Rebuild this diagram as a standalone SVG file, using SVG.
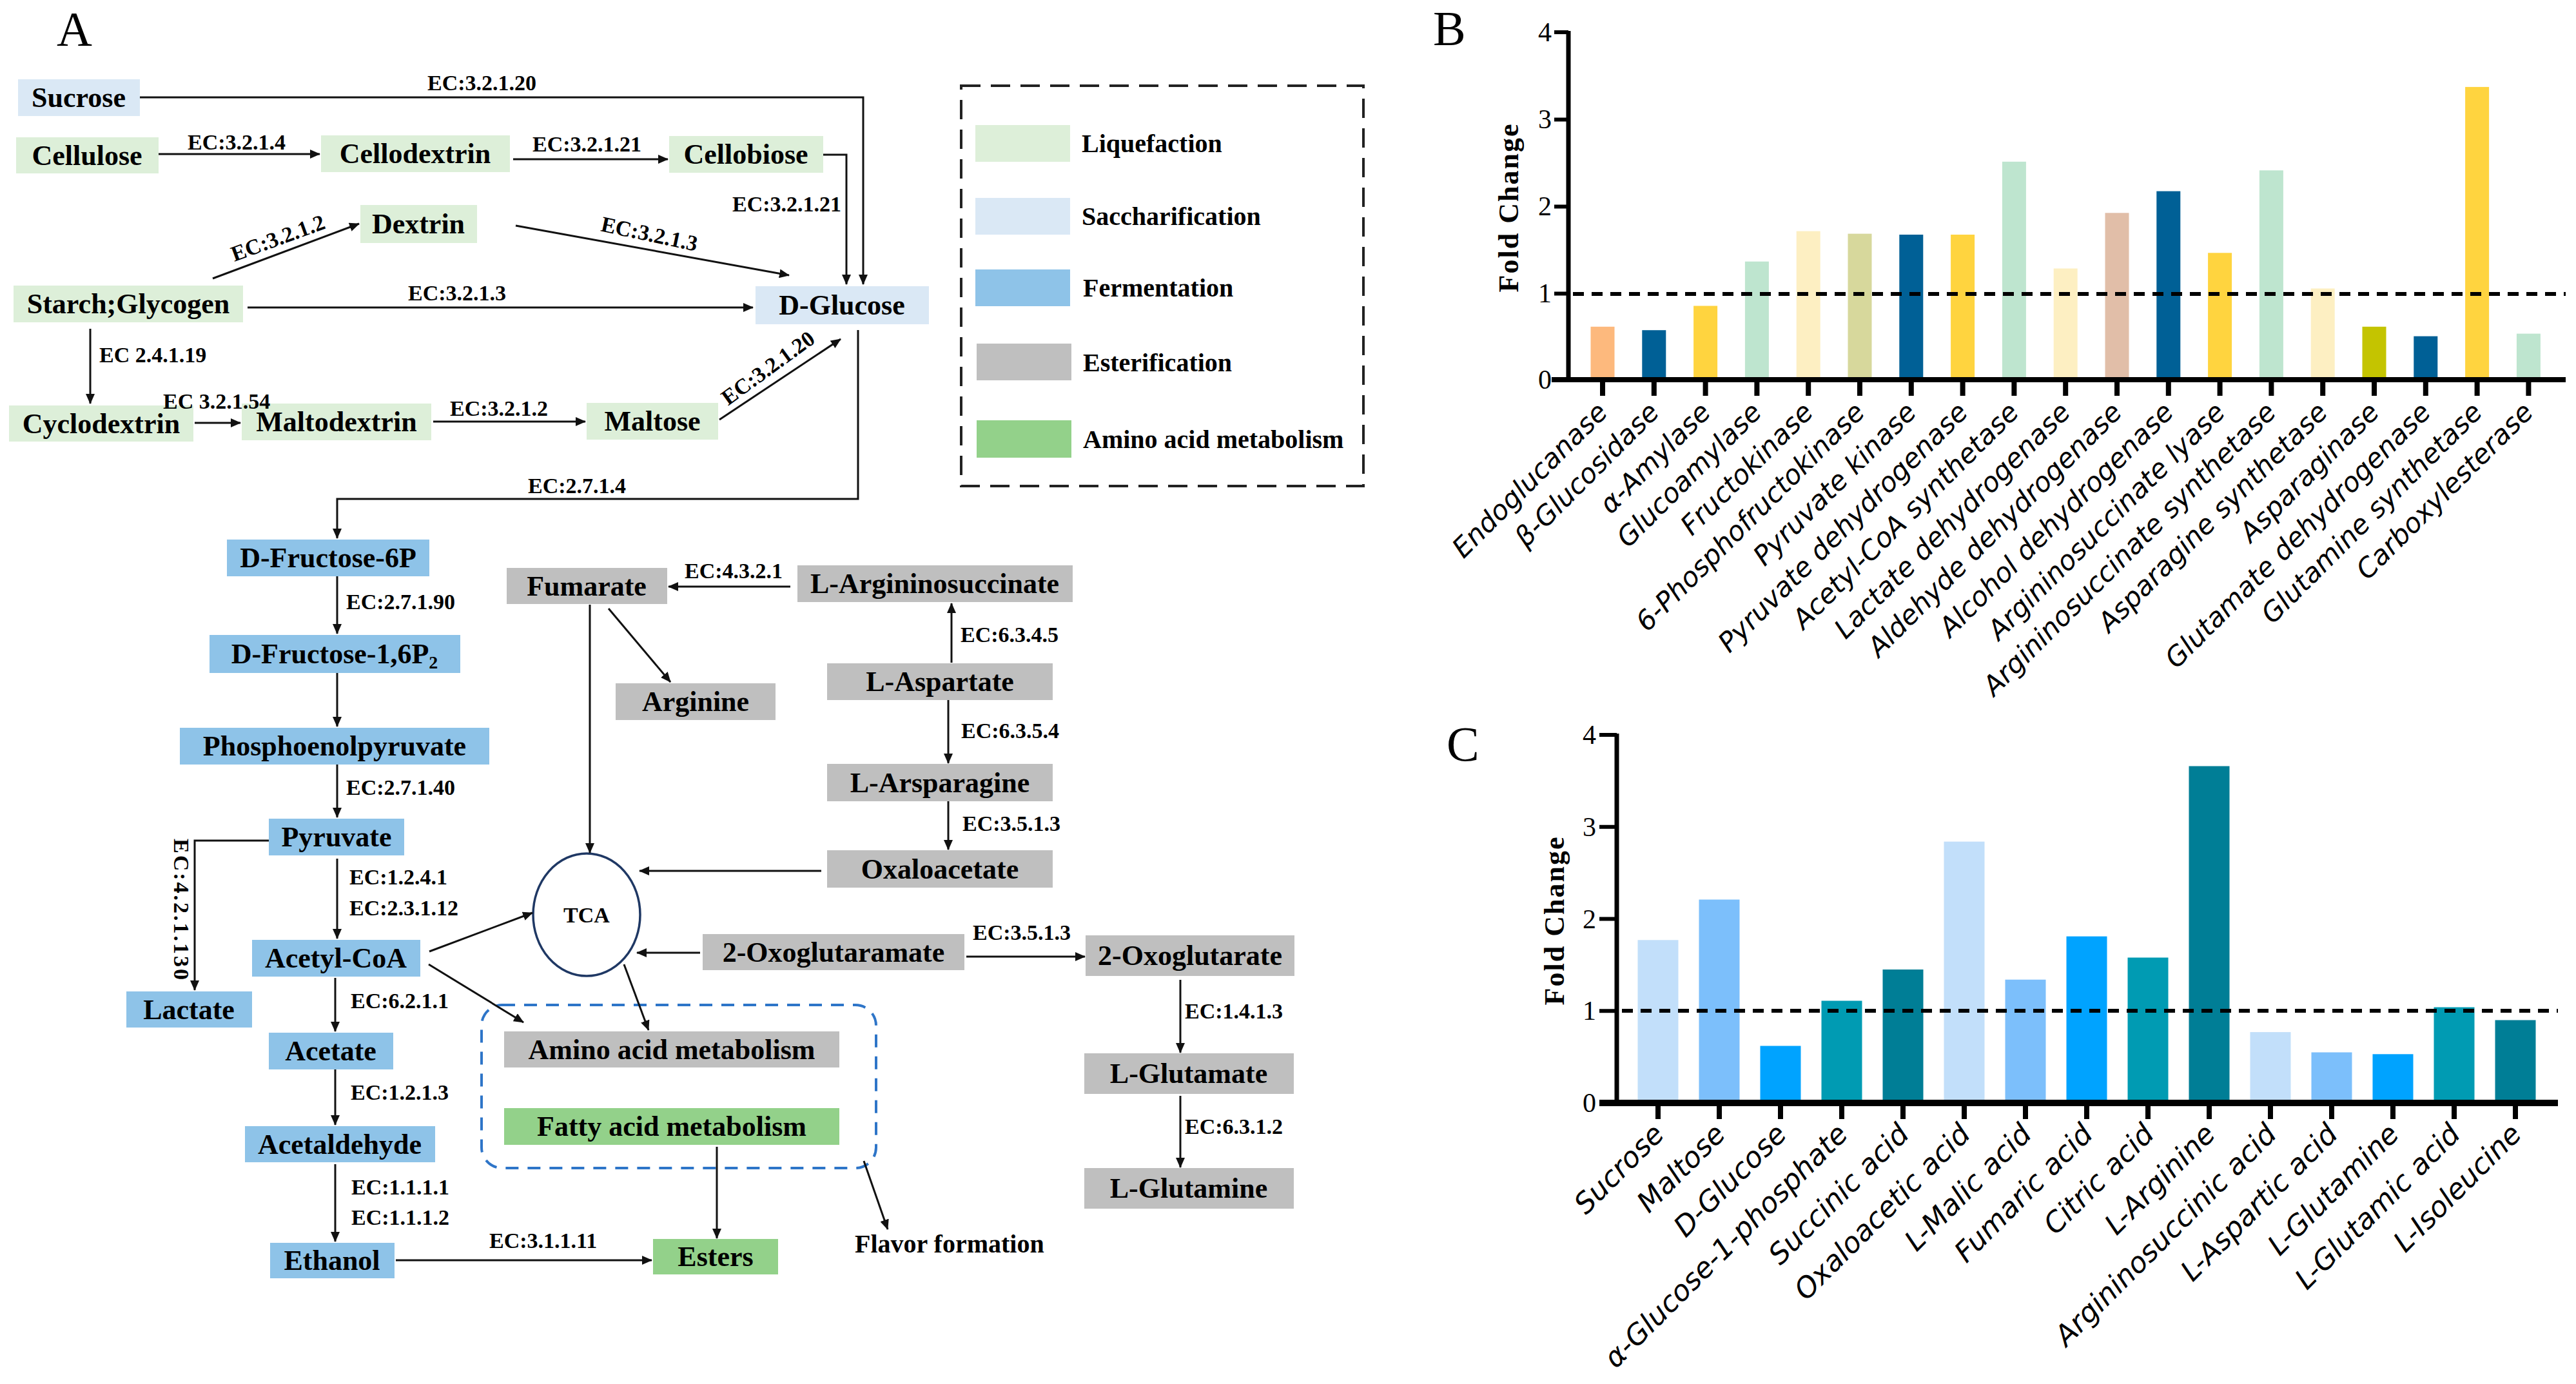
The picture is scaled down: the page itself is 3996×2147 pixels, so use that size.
<svg xmlns="http://www.w3.org/2000/svg" width="3996" height="2147" viewBox="0 0 3996 2147">
<defs>
<marker id="ah" viewBox="0 0 16 14" refX="15" refY="7" markerWidth="16" markerHeight="14" markerUnits="userSpaceOnUse" orient="auto">
<path d="M0,0 L16,7 L0,14 Z" fill="#111"/>
</marker>
<style>
.liq{fill:#DDEFD9}
.sac{fill:#DAE8F5}
.fer{fill:#8EC3E8}
.est{fill:#BFBFBF}
.ami{fill:#93D18A}
.nt{font-family:"Liberation Serif","Times New Roman",serif;font-weight:bold;font-size:44px;fill:#000;text-anchor:middle}
.lg{font-family:"Liberation Serif","Times New Roman",serif;font-weight:bold;font-size:40px;fill:#000}
.ec{font-family:"Liberation Serif","Times New Roman",serif;font-weight:bold;font-size:34px;fill:#000}
.pl{font-family:"Liberation Serif","Times New Roman",serif;font-size:76px;fill:#000}
.tk{font-family:"Liberation Serif","Times New Roman",serif;font-size:42px;fill:#000;text-anchor:end}
.yl{font-family:"Liberation Serif","Times New Roman",serif;font-weight:bold;font-size:44px;fill:#000;text-anchor:middle;letter-spacing:2px}
.xb{font-family:"DejaVu Sans","Verdana",sans-serif;font-style:italic;font-size:42px;fill:#000;text-anchor:end}
.xc{font-family:"DejaVu Sans","Verdana",sans-serif;font-style:italic;font-size:44px;fill:#000;text-anchor:end}
.cn path{fill:none;stroke:#111;stroke-width:3;marker-end:url(#ah)}
.ax{stroke:#000;fill:none}
</style>
</defs>
<rect width="3996" height="2147" fill="#fff"/>

<!-- Panel letters -->
<text class="pl" x="88" y="71">A</text>
<text class="pl" x="2223" y="70">B</text>
<text class="pl" x="2244" y="1180">C</text>

<!-- Legend -->
<g id="legend">
<rect x="1491" y="133" width="624" height="621" fill="none" stroke="#222" stroke-width="4" stroke-dasharray="30 16"/>
<rect class="liq" x="1513" y="194" width="147" height="57"/>
<text class="lg" x="1678" y="236">Liquefaction</text>
<rect class="sac" x="1513" y="307" width="147" height="57"/>
<text class="lg" x="1678" y="349">Saccharification</text>
<rect class="fer" x="1513" y="418" width="147" height="57"/>
<text class="lg" x="1680" y="460">Fermentation</text>
<rect class="est" x="1515" y="533" width="147" height="57"/>
<text class="lg" x="1680" y="576">Esterification</text>
<rect class="ami" x="1515" y="652" width="147" height="58"/>
<text class="lg" x="1680" y="695">Amino acid metabolism</text>
</g>

<!-- Nodes -->
<g id="n-sucrose"><rect class="sac" x="28" y="123" width="189" height="57"/><text class="nt" x="122" y="166">Sucrose</text></g>
<g id="n-cellulose"><rect class="liq" x="25" y="213" width="221" height="56"/><text class="nt" x="135" y="256">Cellulose</text></g>
<g id="n-cellodextrin"><rect class="liq" x="498" y="210" width="293" height="57"/><text class="nt" x="644" y="253">Cellodextrin</text></g>
<g id="n-cellobiose"><rect class="liq" x="1038" y="211" width="239" height="57"/><text class="nt" x="1157" y="254">Cellobiose</text></g>
<g id="n-dextrin"><rect class="liq" x="559" y="318" width="181" height="59"/><text class="nt" x="649" y="362">Dextrin</text></g>
<g id="n-starch"><rect class="liq" x="21" y="443" width="356" height="57"/><text class="nt" x="199" y="486">Starch;Glycogen</text></g>
<g id="n-dglucose"><rect class="sac" x="1172" y="444" width="269" height="59"/><text class="nt" x="1306" y="488">D-Glucose</text></g>
<g id="n-cyclodextrin"><rect class="liq" x="14" y="629" width="286" height="56"/><text class="nt" x="157" y="672">Cyclodextrin</text></g>
<g id="n-maltodextrin"><rect class="liq" x="375" y="626" width="294" height="57"/><text class="nt" x="522" y="669">Maltodextrin</text></g>
<g id="n-maltose"><rect class="liq" x="910" y="625" width="204" height="57"/><text class="nt" x="1012" y="668">Maltose</text></g>
<g id="n-f6p"><rect class="fer" x="352" y="837" width="314" height="57"/><text class="nt" x="509" y="880">D-Fructose-6P</text></g>
<g id="n-f16p2"><rect class="fer" x="325" y="985" width="389" height="59"/><text class="nt" x="519" y="1029">D-Fructose-1,6P<tspan font-size="28" dy="8">2</tspan></text></g>
<g id="n-pep"><rect class="fer" x="279" y="1129" width="480" height="57"/><text class="nt" x="519" y="1172">Phosphoenolpyruvate</text></g>
<g id="n-pyruvate"><rect class="fer" x="417" y="1270" width="210" height="57"/><text class="nt" x="522" y="1313">Pyruvate</text></g>
<g id="n-acetylcoa"><rect class="fer" x="391" y="1458" width="261" height="57"/><text class="nt" x="521" y="1501">Acetyl-CoA</text></g>
<g id="n-lactate"><rect class="fer" x="196" y="1538" width="195" height="56"/><text class="nt" x="293" y="1581">Lactate</text></g>
<g id="n-acetate"><rect class="fer" x="417" y="1602" width="193" height="57"/><text class="nt" x="513" y="1645">Acetate</text></g>
<g id="n-acetaldehyde"><rect class="fer" x="380" y="1747" width="295" height="56"/><text class="nt" x="527" y="1790">Acetaldehyde</text></g>
<g id="n-ethanol"><rect class="fer" x="419" y="1928" width="193" height="55"/><text class="nt" x="515" y="1970">Ethanol</text></g>
<g id="n-fumarate"><rect class="est" x="786" y="881" width="249" height="56"/><text class="nt" x="910" y="924">Fumarate</text></g>
<g id="n-arginine"><rect class="est" x="955" y="1060" width="248" height="57"/><text class="nt" x="1079" y="1103">Arginine</text></g>
<g id="n-argsucc"><rect class="est" x="1237" y="877" width="427" height="57"/><text class="nt" x="1450" y="920">L-Argininosuccinate</text></g>
<g id="n-aspartate"><rect class="est" x="1283" y="1029" width="350" height="57"/><text class="nt" x="1458" y="1072">L-Aspartate</text></g>
<g id="n-asparagine"><rect class="est" x="1283" y="1185" width="350" height="58"/><text class="nt" x="1458" y="1229">L-Arsparagine</text></g>
<g id="n-oxaloacetate"><rect class="est" x="1283" y="1319" width="350" height="58"/><text class="nt" x="1458" y="1363">Oxaloacetate</text></g>
<g id="n-tca"><ellipse cx="910" cy="1419" rx="83" ry="95" fill="#fff" stroke="#1F3864" stroke-width="3.5"/><text class="ec" x="910" y="1431" text-anchor="middle">TCA</text></g>
<g id="n-oxoglutaramate"><rect class="est" x="1090" y="1449" width="406" height="56"/><text class="nt" x="1293" y="1492">2-Oxoglutaramate</text></g>
<g id="n-oxoglutarate"><rect class="est" x="1684" y="1451" width="324" height="63"/><text class="nt" x="1846" y="1497">2-Oxoglutarate</text></g>
<g id="n-glutamate"><rect class="est" x="1682" y="1634" width="325" height="63"/><text class="nt" x="1844" y="1680">L-Glutamate</text></g>
<g id="n-glutamine"><rect class="est" x="1682" y="1812" width="325" height="63"/><text class="nt" x="1844" y="1858">L-Glutamine</text></g>
<g id="n-flavorgroup"><rect x="747" y="1559" width="612" height="253" rx="32" ry="32" fill="none" stroke="#2E75C8" stroke-width="4" stroke-dasharray="20 14"/></g>
<g id="n-aminometab"><rect class="est" x="782" y="1600" width="520" height="56"/><text class="nt" x="1042" y="1643">Amino acid metabolism</text></g>
<g id="n-fattymetab"><rect class="ami" x="782" y="1719" width="520" height="57"/><text class="nt" x="1042" y="1762">Fatty acid metabolism</text></g>
<g id="n-esters"><rect class="ami" x="1013" y="1922" width="194" height="55"/><text class="nt" x="1110" y="1964">Esters</text></g>
<g id="n-flavor"><text class="lg" x="1326" y="1943">Flavor formation</text></g>

<!-- Connectors -->
<g id="connectors" class="cn">
<path d="M217,151 H1339 V441"/>
<path d="M246,239 H496"/>
<path d="M796,247 H1036"/>
<path d="M1277,240 H1313 V441"/>
<path d="M330,432 L557,347"/>
<path d="M800,350 L1224,427"/>
<path d="M384,477 H1168"/>
<path d="M140,510 V626"/>
<path d="M302,656 H373"/>
<path d="M672,654 H908"/>
<path d="M1116,651 L1304,526"/>
<path d="M1331,512 V774 H523 V835"/>
<path d="M523,894 V983"/>
<path d="M523,1044 V1127"/>
<path d="M523,1186 V1268"/>
<path d="M417,1304 H302 V1536"/>
<path d="M523,1332 V1456"/>
<path d="M520,1517 V1600"/>
<path d="M520,1659 V1745"/>
<path d="M520,1806 V1926"/>
<path d="M614,1955 H1011"/>
<path d="M666,1476 L826,1416"/>
<path d="M665,1496 L812,1586"/>
<path d="M915,938 V1323"/>
<path d="M944,944 L1040,1058"/>
<path d="M1226,910 H1037"/>
<path d="M1476,1028 V936"/>
<path d="M1471,1086 V1184"/>
<path d="M1471,1243 V1318"/>
<path d="M1274,1351 H992"/>
<path d="M1086,1478 H988"/>
<path d="M1499,1484 H1683"/>
<path d="M1831,1520 V1633"/>
<path d="M1831,1700 V1811"/>
<path d="M968,1496 L1006,1598"/>
<path d="M1112,1779 V1921"/>
<path d="M1340,1801 L1377,1907"/>
</g>

<!-- EC labels -->
<g id="ec-labels">
<text class="ec" x="663" y="140">EC:3.2.1.20</text>
<text class="ec" x="291" y="232">EC:3.2.1.4</text>
<text class="ec" x="826" y="235">EC:3.2.1.21</text>
<text class="ec" x="1136" y="328">EC:3.2.1.21</text>
<text class="ec" text-anchor="middle" transform="translate(435,380) rotate(-20)">EC:3.2.1.2</text>
<text class="ec" text-anchor="middle" transform="translate(1005,374) rotate(12)">EC:3.2.1.3</text>
<text class="ec" x="633" y="466">EC:3.2.1.3</text>
<text class="ec" x="154" y="562">EC 2.4.1.19</text>
<text class="ec" x="253" y="634">EC 3.2.1.54</text>
<text class="ec" x="698" y="645">EC:3.2.1.2</text>
<text class="ec" text-anchor="middle" transform="translate(1198,580) rotate(-36)">EC:3.2.1.20</text>
<text class="ec" x="819" y="765">EC:2.7.1.4</text>
<text class="ec" x="537" y="945">EC:2.7.1.90</text>
<text class="ec" x="537" y="1233">EC:2.7.1.40</text>
<text class="ec" x="542" y="1372">EC:1.2.4.1</text>
<text class="ec" x="542" y="1420">EC:2.3.1.12</text>
<text class="ec" text-anchor="middle" letter-spacing="3" transform="translate(270,1412) rotate(90)">EC:4.2.1.130</text>
<text class="ec" x="544" y="1564">EC:6.2.1.1</text>
<text class="ec" x="544" y="1706">EC:1.2.1.3</text>
<text class="ec" x="545" y="1853">EC:1.1.1.1</text>
<text class="ec" x="545" y="1900">EC:1.1.1.2</text>
<text class="ec" x="759" y="1936">EC:3.1.1.11</text>
<text class="ec" x="1062" y="897">EC:4.3.2.1</text>
<text class="ec" x="1490" y="996">EC:6.3.4.5</text>
<text class="ec" x="1491" y="1145">EC:6.3.5.4</text>
<text class="ec" x="1493" y="1289">EC:3.5.1.3</text>
<text class="ec" x="1509" y="1458">EC:3.5.1.3</text>
<text class="ec" x="1838" y="1580">EC:1.4.1.3</text>
<text class="ec" x="1838" y="1759">EC:6.3.1.2</text>
</g>

<!-- Panel B -->
<g id="chart-b">
<g id="bars-b">
<rect x="2467.5" y="506.8" width="37" height="82.2" fill="#FDB97D"/>
<rect x="2547.3" y="512.2" width="37" height="76.8" fill="#006096"/>
<rect x="2627.1" y="474.5" width="37" height="114.5" fill="#FFD43F"/>
<rect x="2706.9" y="405.7" width="37" height="183.3" fill="#BEE5CF"/>
<rect x="2786.7" y="358.6" width="37" height="230.4" fill="#FDEFC2"/>
<rect x="2866.5" y="362.6" width="37" height="226.4" fill="#D7D89C"/>
<rect x="2946.3" y="364" width="37" height="225" fill="#006096"/>
<rect x="3026.1" y="364" width="37" height="225" fill="#FFD43F"/>
<rect x="3105.9" y="250.8" width="37" height="338.2" fill="#BEE5CF"/>
<rect x="3185.7" y="416.5" width="37" height="172.5" fill="#FDEFC2"/>
<rect x="3265.5" y="330.3" width="37" height="258.7" fill="#E1BEA8"/>
<rect x="3345.3" y="296.6" width="37" height="292.4" fill="#006096"/>
<rect x="3425.1" y="392.3" width="37" height="196.7" fill="#FFD43F"/>
<rect x="3504.9" y="264.3" width="37" height="324.7" fill="#BEE5CF"/>
<rect x="3584.7" y="447.5" width="37" height="141.5" fill="#FDEFC2"/>
<rect x="3664.5" y="506.8" width="37" height="82.2" fill="#C4C400"/>
<rect x="3744.3" y="521.6" width="37" height="67.4" fill="#006096"/>
<rect x="3824.1" y="134.9" width="37" height="454.1" fill="#FFD43F"/>
<rect x="3903.9" y="517.6" width="37" height="71.4" fill="#BEE5CF"/>
</g>
<path class="ax" stroke-width="7" d="M2433,48 V589"/>
<path class="ax" stroke-width="6" d="M2411,50 H2433 M2411,185.5 H2433 M2411,320.5 H2433 M2411,455.5 H2433"/>
<path class="ax" stroke-width="6" stroke-dasharray="17 12" d="M2440,456 H3980"/>
<path class="ax" stroke-width="8" d="M2407,589 H3980"/>
<path class="ax" stroke-width="8" d="M2486,589 V614 M2565.8,589 V614 M2645.6,589 V614 M2725.4,589 V614 M2805.2,589 V614 M2885,589 V614 M2964.8,589 V614 M3044.6,589 V614 M3124.4,589 V614 M3204.2,589 V614 M3284,589 V614 M3363.8,589 V614 M3443.6,589 V614 M3523.4,589 V614 M3603.2,589 V614 M3683,589 V614 M3762.8,589 V614 M3842.6,589 V614 M3922.4,589 V614"/>
<text class="tk" x="2407" y="64">4</text>
<text class="tk" x="2407" y="199">3</text>
<text class="tk" x="2407" y="334">2</text>
<text class="tk" x="2407" y="469">1</text>
<text class="tk" x="2407" y="603">0</text>
<text class="yl" transform="translate(2340,322) rotate(-90)" y="15">Fold Change</text>
<text class="xb" transform="translate(2496,642) rotate(-45)">Endoglucanase</text>
<text class="xb" transform="translate(2576,642) rotate(-45)">β-Glucosidase</text>
<text class="xb" transform="translate(2656,642) rotate(-45)">α-Amylase</text>
<text class="xb" transform="translate(2735,642) rotate(-45)">Glucoamylase</text>
<text class="xb" transform="translate(2815,642) rotate(-45)">Fructokinase</text>
<text class="xb" transform="translate(2895,642) rotate(-45)">6-Phosphofructokinase</text>
<text class="xb" transform="translate(2975,642) rotate(-45)">Pyruvate kinase</text>
<text class="xb" transform="translate(3055,642) rotate(-45)">Pyruvate dehydrogenase</text>
<text class="xb" transform="translate(3134,642) rotate(-45)">Acetyl-CoA synthetase</text>
<text class="xb" transform="translate(3214,642) rotate(-45)">Lactate dehydrogenase</text>
<text class="xb" transform="translate(3294,642) rotate(-45)">Aldehyde dehydrogenase</text>
<text class="xb" transform="translate(3374,642) rotate(-45)">Alcohol dehydrogenase</text>
<text class="xb" transform="translate(3454,642) rotate(-45)">Argininosuccinate lyase</text>
<text class="xb" transform="translate(3533,642) rotate(-45)">Argininosuccinate synthetase</text>
<text class="xb" transform="translate(3613,642) rotate(-45)">Asparagine synthetase</text>
<text class="xb" transform="translate(3693,642) rotate(-45)">Asparaginase</text>
<text class="xb" transform="translate(3773,642) rotate(-45)">Glutamate dehydrogenase</text>
<text class="xb" transform="translate(3853,642) rotate(-45)">Glutamine synthetase</text>
<text class="xb" transform="translate(3932,642) rotate(-45)">Carboxylesterase</text>
</g>

<!-- Panel C -->
<g id="chart-c">
<g id="bars-c">
<rect x="2540.5" y="1458.3" width="63" height="252.7" fill="#C2DFFA"/>
<rect x="2635.5" y="1395.5" width="63" height="315.5" fill="#7CBFFB"/>
<rect x="2730.5" y="1622.5" width="63" height="88.5" fill="#00A3FF"/>
<rect x="2825.5" y="1552.5" width="63" height="158.5" fill="#009BB3"/>
<rect x="2920.5" y="1504" width="63" height="207" fill="#007E96"/>
<rect x="3015.5" y="1305.6" width="63" height="405.4" fill="#C2DFFA"/>
<rect x="3110.5" y="1519.7" width="63" height="191.3" fill="#7CBFFB"/>
<rect x="3205.5" y="1452.6" width="63" height="258.4" fill="#00A3FF"/>
<rect x="3300.5" y="1485.5" width="63" height="225.5" fill="#009BB3"/>
<rect x="3395.5" y="1188.5" width="63" height="522.5" fill="#007E96"/>
<rect x="3490.5" y="1601.1" width="63" height="109.9" fill="#C2DFFA"/>
<rect x="3585.5" y="1632.5" width="63" height="78.5" fill="#7CBFFB"/>
<rect x="3680.5" y="1635.3" width="63" height="75.7" fill="#00A3FF"/>
<rect x="3775.5" y="1562.5" width="63" height="148.5" fill="#009BB3"/>
<rect x="3870.5" y="1582.5" width="63" height="128.5" fill="#007E96"/>
</g>
<path class="ax" stroke-width="7" d="M2508,1138 V1711"/>
<path class="ax" stroke-width="6" d="M2481,1140 H2508 M2481,1282.75 H2508 M2481,1425.5 H2508 M2481,1568.25 H2508"/>
<path class="ax" stroke-width="6" stroke-dasharray="17 12" d="M2516,1568 H3968"/>
<path class="ax" stroke-width="10" d="M2481,1711 H3968"/>
<path class="ax" stroke-width="8" d="M2572,1711 V1736 M2667,1711 V1736 M2762,1711 V1736 M2857,1711 V1736 M2952,1711 V1736 M3047,1711 V1736 M3142,1711 V1736 M3237,1711 V1736 M3332,1711 V1736 M3427,1711 V1736 M3522,1711 V1736 M3617,1711 V1736 M3712,1711 V1736 M3807,1711 V1736 M3902,1711 V1736"/>
<text class="tk" x="2476" y="1154">4</text>
<text class="tk" x="2476" y="1297">3</text>
<text class="tk" x="2476" y="1440">2</text>
<text class="tk" x="2476" y="1582">1</text>
<text class="tk" x="2476" y="1725">0</text>
<text class="yl" font-size="46" transform="translate(2410,1428) rotate(-90)" y="16">Fold Change</text>
<text class="xc" transform="translate(2584,1762) rotate(-45)">Sucrose</text>
<text class="xc" transform="translate(2679,1762) rotate(-45)">Maltose</text>
<text class="xc" transform="translate(2774,1762) rotate(-45)">D-Glucose</text>
<text class="xc" transform="translate(2869,1762) rotate(-45)">α-Glucose-1-phosphate</text>
<text class="xc" transform="translate(2964,1762) rotate(-45)">Succinic acid</text>
<text class="xc" transform="translate(3059,1762) rotate(-45)">Oxaloacetic acid</text>
<text class="xc" transform="translate(3154,1762) rotate(-45)">L-Malic acid</text>
<text class="xc" transform="translate(3249,1762) rotate(-45)">Fumaric acid</text>
<text class="xc" transform="translate(3344,1762) rotate(-45)">Citric acid</text>
<text class="xc" transform="translate(3439,1762) rotate(-45)">L-Arginine</text>
<text class="xc" transform="translate(3534,1762) rotate(-45)">Argininosuccinic acid</text>
<text class="xc" transform="translate(3629,1762) rotate(-45)">L-Aspartic acid</text>
<text class="xc" transform="translate(3724,1762) rotate(-45)">L-Glutamine</text>
<text class="xc" transform="translate(3819,1762) rotate(-45)">L-Glutamic acid</text>
<text class="xc" transform="translate(3914,1762) rotate(-45)">L-Isoleucine</text>
</g>
</svg>
